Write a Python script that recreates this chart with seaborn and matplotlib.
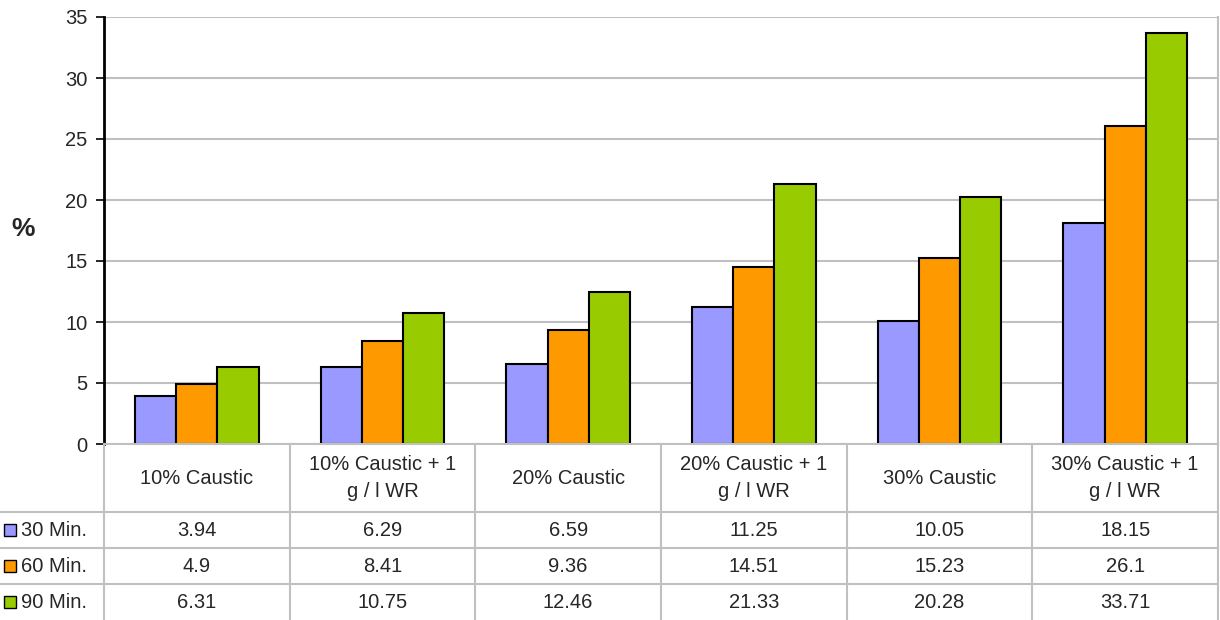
import numpy as np
import pandas as pd
import matplotlib
matplotlib.use("Agg")
import matplotlib.pyplot as plt
import matplotlib.transforms as mtransforms
from matplotlib.lines import Line2D
import seaborn as sns

# Treatments (column headers of the data table)
categories = ["10% Caustic", "10% Caustic + 1\ng / l WR", "20% Caustic",
              "20% Caustic + 1\ng / l WR", "30% Caustic", "30% Caustic + 1\ng / l WR"]
series = ["30 Min.", "60 Min.", "90 Min."]
values_30 = [3.94, 6.29, 6.59, 11.25, 10.05, 18.15]
values_60 = [4.9, 8.41, 9.36, 14.51, 15.23, 26.1]
values_90 = [6.31, 10.75, 12.46, 21.33, 20.28, 33.71]
value_labels = {
    "30 Min.": ["3.94", "6.29", "6.59", "11.25", "10.05", "18.15"],
    "60 Min.": ["4.9", "8.41", "9.36", "14.51", "15.23", "26.1"],
    "90 Min.": ["6.31", "10.75", "12.46", "21.33", "20.28", "33.71"],
}
colors = ["#9999FF", "#FF9900", "#99CC00"]
y_ticks = [0, 5, 10, 15, 20, 25, 30, 35]

df = pd.DataFrame({
    "category": categories * 3,
    "series": [s for s in series for _ in categories],
    "value": values_30 + values_60 + values_90,
})

sns.set_style("white")
plt.rcParams["font.family"] = ["Liberation Sans", "DejaVu Sans"]

FS = 14.5
W, H = 1220, 620
fig = plt.figure(figsize=(12.2, 6.2), dpi=100)
ax_left, ax_right, ax_top, ax_bottom = 104, 1218, 17, 444
ax = fig.add_axes([ax_left / W, 1 - ax_bottom / H,
                   (ax_right - ax_left) / W, (ax_bottom - ax_top) / H])

sns.barplot(data=df, x="category", y="value", hue="series", order=categories,
            hue_order=series, palette=colors, width=0.667, gap=0,
            edgecolor="black", linewidth=1.5, saturation=1, errorbar=None,
            legend=False, ax=ax)

grid_c = "#c0c0c0"
ax.set_xlim(-0.5, len(categories) - 0.5)
ax.set_ylim(0, 35)
ax.set_yticks(y_ticks)
ax.set_yticklabels([str(t) for t in y_ticks], fontsize=FS)
ax.yaxis.grid(True, color=grid_c, linewidth=1.5)
ax.set_axisbelow(True)
ax.tick_params(axis="y", direction="out", length=6, width=1.2, color="black",
               pad=6, left=True)
ax.set_xticks([])
ax.set_xlabel("")
ax.set_ylabel("")
ax.spines["left"].set_color("black")
ax.spines["left"].set_linewidth(2)
ax.spines["top"].set_visible(False)
ax.spines["bottom"].set_color(grid_c)
ax.spines["bottom"].set_linewidth(1.5)
ax.spines["right"].set_color(grid_c)
ax.spines["right"].set_linewidth(1.5)

fig.text(11 / W, 1 - 229 / H, "%", fontsize=19, fontweight="bold",
         ha="left", va="center")

# Data table below the plot
blend = mtransforms.blended_transform_factory(ax.transData, fig.transFigure)
row_lines = [512, 548, 584]
for yp in row_lines:
    fig.add_artist(Line2D([0, ax_right / W], [1 - yp / H] * 2, color=grid_c,
                          linewidth=1.5, transform=fig.transFigure))
for k in range(len(categories) + 1):
    fig.add_artist(Line2D([k - 0.5, k - 0.5], [0, 1 - ax_bottom / H],
                          color=grid_c, linewidth=1.5, transform=blend))

header_y = 1 - 478 / H
for i, cat in enumerate(categories):
    fig.text(i, header_y, cat, transform=blend, ha="center", va="center",
             fontsize=FS, linespacing=1.5)

row_centers = [530, 566, 602]
for s, c, yc in zip(series, colors, row_centers):
    yf = 1 - yc / H
    fig.add_artist(Line2D([10 / W], [yf], marker="s", markersize=8,
                          markerfacecolor=c, markeredgecolor="black",
                          markeredgewidth=1, linestyle="none",
                          transform=fig.transFigure))
    fig.text(21 / W, yf, s, ha="left", va="center", fontsize=FS)
    for i, lab in enumerate(value_labels[s]):
        fig.text(i, yf, lab, transform=blend, ha="center", va="center",
                 fontsize=FS)

fig.savefig("out.png", dpi=100, facecolor="white")
